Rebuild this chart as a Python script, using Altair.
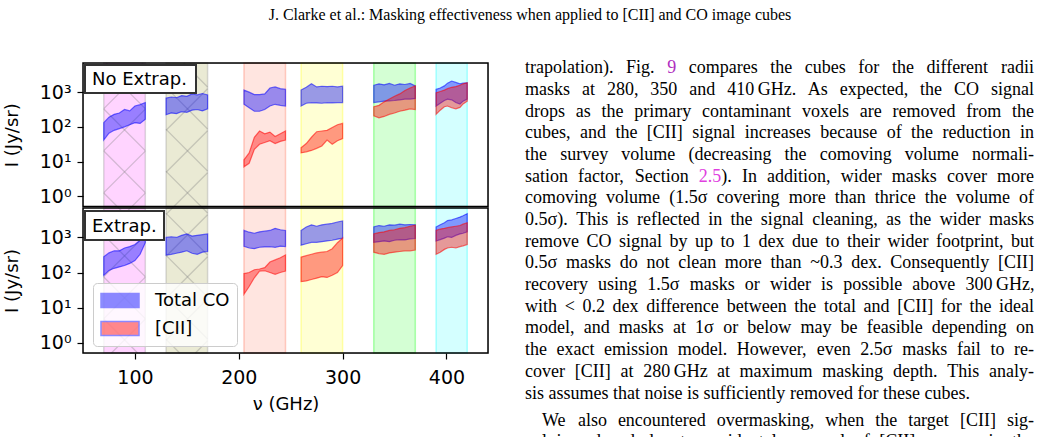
import re
import altair as alt
import pandas as pd

# ---------------- data (log10 of intensity) ----------------
nu_b1 = [70, 75, 80, 85, 90, 95, 100, 105, 110]
nu_b2 = [130, 135, 140, 145, 150, 155, 160, 165, 170]
nu_b3 = [205, 210, 215, 220, 225, 230, 235, 240, 245]
nu_b4 = [260, 265, 270, 275, 280, 285, 290, 295, 300]
nu_b5 = [330, 335, 340, 345, 350, 355, 360, 365, 370]
nu_b6 = [390, 394, 398, 401, 405, 409, 413, 416, 420]

# No Extrap. panel
co_ne_b1_hi = [2.12, 2.28, 2.36, 2.40, 2.50, 2.46, 2.60, 2.64, 2.70]
co_ne_b1_lo = [1.62, 1.82, 1.90, 1.95, 2.00, 2.06, 2.12, 2.10, 2.22]
co_ne_b2_hi = [2.83, 2.86, 2.84, 2.90, 2.88, 2.95, 2.92, 2.96, 2.92]
co_ne_b2_lo = [2.35, 2.40, 2.38, 2.44, 2.42, 2.48, 2.50, 2.46, 2.52]
co_ne_b3_hi = [3.06, 3.00, 2.93, 2.93, 2.95, 3.12, 3.15, 3.10, 3.08]
co_ne_b3_lo = [2.65, 2.55, 2.45, 2.45, 2.50, 2.60, 2.65, 2.62, 2.60]
co_ne_b4_hi = [3.06, 3.14, 3.24, 3.15, 3.17, 3.16, 3.17, 3.15, 3.17]
co_ne_b4_lo = [2.60, 2.68, 2.70, 2.69, 2.68, 2.70, 2.69, 2.70, 2.70]
co_ne_b5_hi = [3.20, 3.24, 3.21, 3.25, 3.20, 3.24, 3.22, 3.25, 3.18]
co_ne_b5_lo = [2.70, 2.72, 2.74, 2.75, 2.76, 2.78, 2.80, 2.80, 2.82]
co_ne_b6_hi = [3.08, 3.12, 3.18, 3.26, 3.32, 3.28, 3.24, 3.26, 3.27]
co_ne_b6_lo = [2.60, 2.68, 2.76, 2.80, 2.78, 2.70, 2.66, 2.74, 2.80]
cii_ne_b3_hi = [1.05, 1.25, 1.70, 1.88, 1.80, 1.85, 1.72, 1.80, 1.88]
cii_ne_b3_lo = [0.85, 0.95, 1.35, 1.50, 1.55, 1.60, 1.52, 1.58, 1.62]
cii_ne_b4_hi = [1.40, 1.52, 1.70, 1.86, 1.88, 1.90, 1.98, 2.06, 2.10]
cii_ne_b4_lo = [1.25, 1.28, 1.32, 1.38, 1.45, 1.62, 1.50, 1.60, 1.66]
cii_ne_b5_hi = [2.58, 2.62, 2.72, 2.80, 2.88, 2.95, 3.05, 3.12, 3.18]
cii_ne_b5_lo = [2.32, 2.26, 2.30, 2.36, 2.40, 2.45, 2.48, 2.52, 2.50]
cii_ne_b6_hi = [2.98, 3.02, 3.06, 3.10, 3.14, 3.16, 3.20, 3.24, 3.27]
cii_ne_b6_lo = [2.36, 2.48, 2.58, 2.60, 2.55, 2.52, 2.56, 2.66, 2.74]

# Extrap. panel
co_ex_b1_hi = [2.45, 2.56, 2.62, 2.62, 2.70, 2.74, 2.80, 2.92, 3.15]
co_ex_b1_lo = [1.92, 2.06, 2.12, 2.16, 2.20, 2.26, 2.34, 2.52, 2.85]
co_ex_b2_hi = [3.00, 3.02, 3.00, 3.06, 3.10, 3.04, 3.06, 3.08, 3.10]
co_ex_b2_lo = [2.50, 2.52, 2.55, 2.58, 2.62, 2.55, 2.52, 2.58, 2.60]
co_ex_b3_hi = [3.20, 3.15, 3.12, 3.16, 3.18, 3.20, 3.26, 3.22, 3.20]
co_ex_b3_lo = [2.75, 2.70, 2.68, 2.72, 2.73, 2.74, 2.72, 2.75, 2.74]
co_ex_b4_hi = [3.20, 3.30, 3.36, 3.32, 3.36, 3.38, 3.40, 3.44, 3.47]
co_ex_b4_lo = [2.78, 2.82, 2.86, 2.86, 2.88, 2.90, 2.92, 2.95, 2.98]
co_ex_b5_hi = [3.30, 3.34, 3.32, 3.36, 3.35, 3.38, 3.36, 3.37, 3.36]
co_ex_b5_lo = [2.86, 2.88, 2.90, 2.88, 2.92, 2.94, 2.93, 2.96, 2.97]
co_ex_b6_hi = [3.30, 3.36, 3.42, 3.48, 3.50, 3.54, 3.58, 3.62, 3.68]
co_ex_b6_lo = [2.90, 2.94, 2.98, 3.02, 3.00, 3.06, 3.10, 3.12, 3.16]
cii_ex_b3_hi = [1.97, 2.00, 2.08, 2.10, 2.14, 2.30, 2.36, 2.42, 2.50]
cii_ex_b3_lo = [1.38, 1.60, 1.85, 2.04, 2.05, 2.00, 1.95, 2.00, 2.04]
cii_ex_b4_hi = [2.44, 2.48, 2.52, 2.56, 2.58, 2.60, 2.68, 2.85, 2.98]
cii_ex_b4_lo = [1.74, 1.76, 1.80, 1.84, 1.88, 1.86, 1.92, 2.00, 2.20]
cii_ex_b5_hi = [3.10, 3.14, 3.16, 3.20, 3.22, 3.26, 3.28, 3.32, 3.35]
cii_ex_b5_lo = [2.58, 2.54, 2.52, 2.56, 2.58, 2.60, 2.62, 2.62, 2.64]
cii_ex_b6_hi = [3.20, 3.24, 3.26, 3.28, 3.30, 3.32, 3.34, 3.38, 3.42]
cii_ex_b6_lo = [2.52, 2.58, 2.66, 2.70, 2.72, 2.70, 2.74, 2.76, 2.80]

band_lo = [70, 130, 205, 260, 330, 390]
band_hi = [110, 170, 245, 300, 370, 420]
band_color = ["#ff00ff", "#808000", "#ff6347", "#ffff00", "#00ff00", "#00ffff"]
band_hatched = [True, True, False, False, False, False]

y_tick_values = [1, 10, 100, 1000]
x_tick_values = [100, 200, 300, 400]
series_names = ["Total CO", "[CII]"]
series_colors = ["#0000ff", "#ff0000"]

header_text = "J. Clarke et al.: Masking effectiveness when applied to [CII] and CO image cubes"
para1 = [
    "trapolation). Fig. {9} compares the cubes for the different radii",
    "masks at 280, 350 and 410\u2009GHz. As expected, the CO signal",
    "drops as the primary contaminant voxels are removed from the",
    "cubes, and the [CII] signal increases because of the reduction in",
    "the survey volume (decreasing the comoving volume normali-",
    "sation factor, Section [2.5]). In addition, wider masks cover more",
    "comoving volume (1.5\u03c3 covering more than thrice the volume of",
    "0.5\u03c3). This is reflected in the signal cleaning, as the wider masks",
    "remove CO signal by up to 1 dex due to their wider footprint, but",
    "0.5\u03c3 masks do not clean more than ~0.3 dex. Consequently [CII]",
    "recovery using 1.5\u03c3 masks or wider is possible above 300\u2009GHz,",
    "with < 0.2 dex difference between the total and [CII] for the ideal",
    "model, and masks at 1\u03c3 or below may be feasible depending on",
    "the exact emission model. However, even 2.5\u03c3 masks fail to re-",
    "cover [CII] at 280\u2009GHz at maximum masking depth. This analy-",
    "sis assumes that noise is sufficiently removed for these cubes.",
]
para2 = [
    "We also encountered overmasking, when the target [CII] sig-",
    "nal is reduced due to accidental removal of [CII] sources in the",
]

# ---------------- layout constants ----------------
W, H = 405, 290
OX, OY = 83, 63
YDOM = [10 ** -0.295, 10 ** 3.84]
XDOM = [50, 440]
RANGES = {"ne": [143.5, 0], "ex": [290, 145]}
FONT = "DejaVu Sans"


def ysc(p):
    return alt.Scale(type="log", domain=YDOM, range=RANGES[p], nice=False)


xsc = alt.Scale(domain=XDOM, nice=False, zero=False)

y_label_expr = ("datum.value == 1 ? '10\u2070' : datum.value == 10 ? '10\u00b9' : "
                "datum.value == 100 ? '10\u00b2' : '10\u00b3'")


def yaxis(p):
    return alt.Axis(values=y_tick_values, labelExpr=y_label_expr, orient="left", grid=False,
                    domain=False, tickSize=6, tickColor="black", tickWidth=1.2,
                    labelFontSize=19, labelFont=FONT, labelColor="black", labelPadding=6,
                    title="I (Jy/sr)", titleFont=FONT, titleFontSize=18, titleFontWeight="normal",
                    titleColor="black", titleAngle=-90, titleX=-71,
                    titleY=(RANGES[p][0] + RANGES[p][1]) / 2, titleAlign="center",
                    titleBaseline="middle")


xaxis = alt.Axis(values=x_tick_values, orient="bottom", grid=False, domain=False, tickSize=6,
                 tickColor="black", tickWidth=1.2, labelFontSize=19, labelFont=FONT,
                 labelColor="black", labelPadding=9, title="\u03bd (GHz)", titleFont=FONT,
                 titleFontSize=18, titleFontWeight="normal", titleColor="black", titleY=56,
                 titleBaseline="alphabetic")

co_sets = {
    "ne": [(nu_b1, co_ne_b1_lo, co_ne_b1_hi), (nu_b2, co_ne_b2_lo, co_ne_b2_hi),
           (nu_b3, co_ne_b3_lo, co_ne_b3_hi), (nu_b4, co_ne_b4_lo, co_ne_b4_hi),
           (nu_b5, co_ne_b5_lo, co_ne_b5_hi), (nu_b6, co_ne_b6_lo, co_ne_b6_hi)],
    "ex": [(nu_b1, co_ex_b1_lo, co_ex_b1_hi), (nu_b2, co_ex_b2_lo, co_ex_b2_hi),
           (nu_b3, co_ex_b3_lo, co_ex_b3_hi), (nu_b4, co_ex_b4_lo, co_ex_b4_hi),
           (nu_b5, co_ex_b5_lo, co_ex_b5_hi), (nu_b6, co_ex_b6_lo, co_ex_b6_hi)],
}
cii_sets = {
    "ne": [(nu_b3, cii_ne_b3_lo, cii_ne_b3_hi), (nu_b4, cii_ne_b4_lo, cii_ne_b4_hi),
           (nu_b5, cii_ne_b5_lo, cii_ne_b5_hi), (nu_b6, cii_ne_b6_lo, cii_ne_b6_hi)],
    "ex": [(nu_b3, cii_ex_b3_lo, cii_ex_b3_hi), (nu_b4, cii_ex_b4_lo, cii_ex_b4_hi),
           (nu_b5, cii_ex_b5_lo, cii_ex_b5_hi), (nu_b6, cii_ex_b6_lo, cii_ex_b6_hi)],
}


def area_df(sets, name):
    rows = []
    for i, (nu, lo, hi) in enumerate(sets):
        for f, a, b in zip(nu, lo, hi):
            rows.append({"nu": f, "lo": 10 ** a, "hi": 10 ** b, "seg": f"s{i}", "series": name})
    return pd.DataFrame(rows)


color_scale = alt.Scale(domain=series_names, range=series_colors)
legend = alt.Legend(title=None, orient="none", legendX=10, legendY=220,
                    symbolType="M-1,-0.74H3V0.74H-1Z", symbolSize=361, symbolOpacity=0.45,
                    symbolStrokeWidth=1.5, labelFontSize=18, labelFont=FONT, labelColor="black",
                    labelOffset=34, rowPadding=7, padding=7, fillColor="rgba(255,255,255,0.8)",
                    strokeColor="#cccccc", cornerRadius=4, zindex=5)

layers = []

# background bands
band_df = pd.DataFrame({"lo": band_lo, "hi": band_hi, "col": band_color,
                        "edge": ["#888888" if h else c for h, c in zip(band_hatched, band_color)],
                        "y0": YDOM[0], "y1": YDOM[1]})
for p in ("ne", "ex"):
    layers.append(
        alt.Chart(band_df).mark_rect(fillOpacity=0.17, strokeOpacity=0.3, strokeWidth=1.5).encode(
            x=alt.X("lo:Q", scale=xsc, axis=None), x2="hi:Q",
            y=alt.Y("y0:Q", scale=ysc(p), axis=None), y2="y1:Q",
            fill=alt.Fill("col:N", scale=None), stroke=alt.Stroke("edge:N", scale=None)))

# hatch ("x") on the first two bands, drawn as 45-degree lines in pixel space
P, CA, CB = 42.0, 16.7, 24.4
hrows = []
for lo, hi, h in zip(band_lo, band_hi, band_hatched):
    if not h:
        continue
    x0 = (lo - XDOM[0]) / (XDOM[1] - XDOM[0]) * W
    x1 = (hi - XDOM[0]) / (XDOM[1] - XDOM[0]) * W
    for k in range(-20, 40):
        c = CA + k * P
        xa, xb = max(x0, c), min(x1, H + c)
        if xb > xa:
            hrows.append({"xa": xa, "ya": xa - c, "xb": xb, "yb": xb - c})
        c = CB + k * P
        xa, xb = max(x0, c - H), min(x1, c)
        if xb > xa:
            hrows.append({"xa": xa, "ya": c - xa, "xb": xb, "yb": c - xb})
layers.append(
    alt.Chart(pd.DataFrame(hrows)).mark_rule(color="#808080", opacity=0.35, strokeWidth=1.3).encode(
        x=alt.X("xa:Q", scale=None, axis=None), y=alt.Y("ya:Q", scale=None, axis=None),
        x2="xb:Q", y2="yb:Q"))

# data areas
for p in ("ne", "ex"):
    for sets, name, col in ((co_sets[p], series_names[0], series_colors[0]),
                            (cii_sets[p], series_names[1], series_colors[1])):
        first = name == series_names[0]
        layers.append(
            alt.Chart(area_df(sets, name)).mark_area(fillOpacity=0.4, stroke=col, strokeOpacity=0.55,
                                                   strokeWidth=1.2).encode(
                x=alt.X("nu:Q", scale=xsc, axis=xaxis if (p == "ex" and first) else None),
                y=alt.Y("hi:Q", scale=ysc(p), stack=None, axis=yaxis(p) if first else None),
                y2="lo:Q",
                detail="seg:N",
                color=alt.Color("series:N", scale=color_scale,
                                legend=legend if (p == "ex" and first) else None)))

# panel frames
for p in ("ne", "ex"):
    fdf = pd.DataFrame({"x0": [XDOM[0]], "x1": [XDOM[1]], "y0": [YDOM[0]], "y1": [YDOM[1]]})
    layers.append(
        alt.Chart(fdf).mark_rect(fillOpacity=0, stroke="black", strokeWidth=1.5).encode(
            x=alt.X("x0:Q", scale=xsc, axis=None), x2="x1:Q",
            y=alt.Y("y0:Q", scale=ysc(p), axis=None), y2="y1:Q"))

# panel labels (anchored text boxes, upper left)
box_df = pd.DataFrame({"x0": [2, 2], "x1": [113, 81], "y0": [2, 148], "y1": [30, 177],
                       "tx": [9, 9], "ty": [22, 169], "t": ["No Extrap.", "Extrap."]})
layers.append(
    alt.Chart(box_df).mark_rect(fill="white", stroke="#333333", strokeWidth=2).encode(
        x=alt.X("x0:Q", scale=None, axis=None), x2="x1:Q",
        y=alt.Y("y0:Q", scale=None, axis=None), y2="y1:Q"))
layers.append(
    alt.Chart(box_df).mark_text(align="left", baseline="alphabetic", font=FONT, fontSize=18,
                                color="black").encode(
        x=alt.X("tx:Q", scale=None, axis=None), y=alt.Y("ty:Q", scale=None, axis=None),
        text="t:N"))

# ---------------- page text (header + right column) ----------------
TW = {" ": .25, "!": .333, "(": .333, ")": .333, ",": .25, "-": .333, ".": .25, ":": .278,
      ";": .278, "<": .564, "~": .541, "[": .333, "]": .333, "\u2009": .17, "\u03c3": .55,
      "A": .722, "B": .667, "C": .667, "D": .722, "E": .611, "F": .556, "G": .722, "H": .722,
      "I": .333, "J": .389, "K": .722, "L": .611, "M": .889, "N": .722, "O": .722, "P": .556,
      "Q": .722, "R": .667, "S": .556, "T": .611, "U": .722, "V": .722, "W": .944, "X": .722,
      "Y": .722, "Z": .611, "a": .444, "b": .5, "c": .444, "d": .5, "e": .444, "f": .333,
      "g": .5, "h": .5, "i": .278, "j": .278, "k": .5, "l": .278, "m": .778, "n": .5, "o": .5,
      "p": .5, "q": .5, "r": .333, "s": .389, "t": .278, "u": .5, "v": .5, "w": .722, "x": .5,
      "y": .5, "z": .444}
FS = 18
LINK_A, LINK_B = "#b030c0", "#e040e0"


def tw(s):
    return sum(TW.get(ch, 0.5) for ch in s) * FS


def segments(word):
    out = []
    for part in re.split(r"(\{[^}]*\}|\[2\.5\])", word):
        if not part:
            continue
        if part.startswith("{"):
            out.append((part[1:-1], LINK_A))
        elif part == "[2.5]":
            out.append(("2.5", LINK_B))
        else:
            out.append((part, "black"))
    return out


text_rows = []
COL_X, COL_W = 525 - OX, 509


def place(line, base_y, justify, indent=0.0):
    words = [segments(w) for w in line.split(" ")]
    widths = [sum(tw(t) for t, _ in w) for w in words]
    gap = (COL_W - indent - sum(widths)) / (len(words) - 1) if justify else tw(" ")
    x = COL_X + indent
    for segs, wd in zip(words, widths):
        xx = x
        for t, c in segs:
            text_rows.append({"x": xx, "y": base_y, "t": t, "c": c})
            xx += tw(t)
        x += wd + gap


for i, line in enumerate(para1):
    place(line, 73.3 + 21.68 * i - OY, justify=(i < len(para1) - 1))
place(para2[0], 425.6 - OY, True, indent=17)
place(para2[1], 447.3 - OY, True)

layers.append(
    alt.Chart(pd.DataFrame(text_rows)).mark_text(align="left", baseline="alphabetic",
                                                 font="Liberation Serif", fontSize=FS).encode(
        x=alt.X("x:Q", scale=None, axis=None), y=alt.Y("y:Q", scale=None, axis=None),
        text="t:N", fill=alt.Fill("c:N", scale=None, legend=None)))

layers.append(
    alt.Chart(pd.DataFrame({"x": [530 - OX], "y": [19.5 - OY], "t": [header_text]})).mark_text(
        align="center", baseline="alphabetic", font="Liberation Serif", fontSize=16,
        color="black").encode(
        x=alt.X("x:Q", scale=None, axis=None), y=alt.Y("y:Q", scale=None, axis=None),
        text="t:N"))

chart = alt.layer(*layers).resolve_scale(y="independent").resolve_axis(
    x="independent", y="independent").resolve_legend(color="independent").properties(
    width=W, height=H,
    autosize=alt.AutoSizeParams(type="none"),
    padding={"left": OX, "top": OY, "right": 1043 - OX - W, "bottom": 437 - OY - H},
    background="white",
).configure_view(stroke=None).configure(font=FONT)

chart.save("out.html", embed_options={"renderer": "svg", "actions": False})
